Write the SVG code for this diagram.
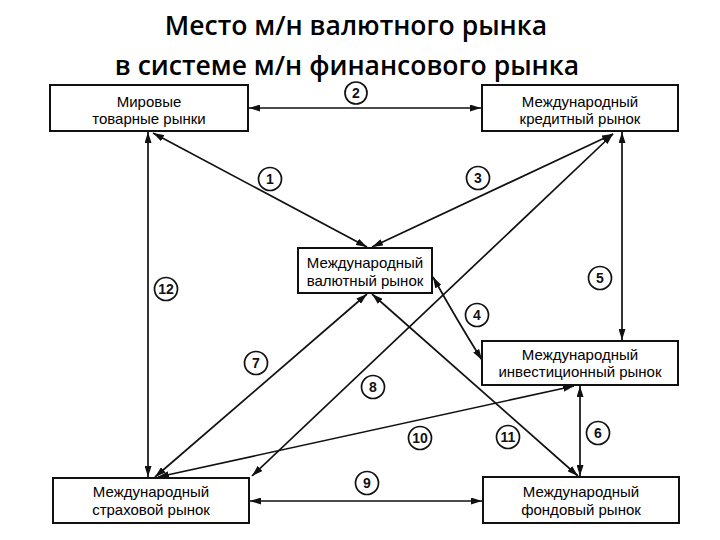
<svg xmlns="http://www.w3.org/2000/svg" width="720" height="540" viewBox="0 0 720 540">
<defs>
<marker id="ah" viewBox="0 0 11 7" refX="11" refY="3.5" markerWidth="11" markerHeight="7" markerUnits="userSpaceOnUse" orient="auto-start-reverse">
<path d="M0,0 L11,3.5 L0,7 z" fill="#111"/>
</marker>
<style>
.title{font-family:"Open Sans","DejaVu Sans",sans-serif;font-weight:600;font-size:26.5px;fill:#000;text-anchor:middle}
.box{fill:#fff;stroke:#111;stroke-width:2}
.lbl{font-family:"Liberation Sans",Arial,sans-serif;font-size:15px;fill:#000;text-anchor:middle}
.con{stroke:#111;stroke-width:1.7;fill:none;marker-start:url(#ah);marker-end:url(#ah)}
.num circle{fill:#fff;stroke:#111;stroke-width:1.7}
.num text{font-family:"Liberation Sans",Arial,sans-serif;font-size:14px;font-weight:bold;fill:#111;text-anchor:middle}
</style>
</defs>
<rect width="720" height="540" fill="#fff"/>
<text class="title" x="356" y="35">Место м/н валютного рынка</text>
<text class="title" x="347" y="75">в системе м/н финансового рынка</text>

<g id="connectors">
<line class="con" x1="249" y1="108" x2="481" y2="108"/>
<line class="con" x1="153" y1="133" x2="367" y2="247"/>
<line class="con" x1="613" y1="134" x2="372" y2="247"/>
<line class="con" x1="613" y1="134" x2="252" y2="476"/>
<line class="con" x1="367" y1="294" x2="155" y2="477"/>
<line class="con" x1="372" y1="294" x2="578" y2="476"/>
<line class="con" x1="574" y1="386" x2="158" y2="477"/>
<line class="con" x1="148" y1="132" x2="148" y2="477"/>
<line class="con" x1="622" y1="132" x2="622" y2="340"/>
<line class="con" x1="580" y1="386" x2="580" y2="476"/>
<line class="con" x1="250" y1="501" x2="482" y2="501"/>
<path class="con" d="M433,277 Q458,322 482,360"/>
</g>

<g id="n-world">
<rect class="box" x="50" y="85" width="198" height="46"/>
<text class="lbl" x="149" y="107">Мировые</text>
<text class="lbl" x="149" y="124">товарные рынки</text>
</g>
<g id="n-credit">
<rect class="box" x="482" y="85" width="196" height="46"/>
<text class="lbl" x="580" y="107">Международный</text>
<text class="lbl" x="580" y="124">кредитный рынок</text>
</g>
<g id="n-currency">
<rect class="box" x="298" y="248" width="134" height="45"/>
<text class="lbl" x="365" y="268">Международный</text>
<text class="lbl" x="365" y="286">валютный рынок</text>
</g>
<g id="n-invest">
<rect class="box" x="482" y="341" width="196" height="44"/>
<text class="lbl" x="580" y="360">Международный</text>
<text class="lbl" x="580" y="377">инвестиционный рынок</text>
</g>
<g id="n-insurance">
<rect class="box" x="53" y="478" width="196" height="45"/>
<text class="lbl" x="151" y="497">Международный</text>
<text class="lbl" x="151" y="515">страховой рынок</text>
</g>
<g id="n-stock">
<rect class="box" x="483" y="477" width="196" height="46"/>
<text class="lbl" x="581" y="497">Международный</text>
<text class="lbl" x="581" y="515">фондовый рынок</text>
</g>

<g id="labels" class="num">
<circle cx="356" cy="93" r="11"/><text x="356" y="98">2</text>
<circle cx="270" cy="179" r="11.5"/><text x="270" y="184">1</text>
<circle cx="478" cy="178" r="11.5"/><text x="478" y="183">3</text>
<circle cx="166" cy="289" r="11.5"/><text x="166" y="294">12</text>
<circle cx="600" cy="278" r="11.5"/><text x="600" y="283">5</text>
<circle cx="477" cy="315" r="11.5"/><text x="477" y="320">4</text>
<circle cx="256" cy="363" r="11.5"/><text x="256" y="368">7</text>
<circle cx="373" cy="387" r="11.5"/><text x="373" y="392">8</text>
<circle cx="420" cy="438" r="11.5"/><text x="420" y="443">10</text>
<circle cx="508" cy="437" r="11.5"/><text x="508" y="442">11</text>
<circle cx="598" cy="433" r="11.5"/><text x="598" y="438">6</text>
<circle cx="367" cy="483" r="11.5"/><text x="367" y="488">9</text>
</g>
</svg>
